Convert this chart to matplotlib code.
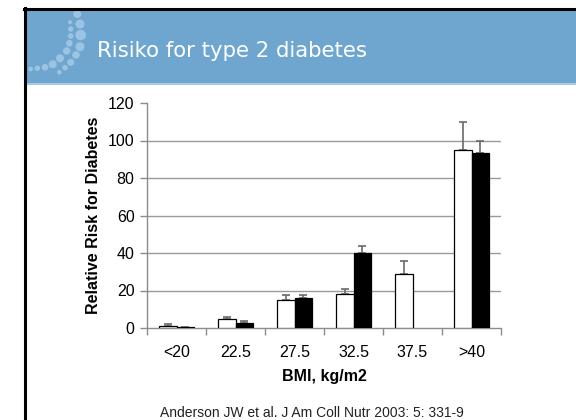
import matplotlib
matplotlib.use("Agg")
import matplotlib.pyplot as plt
import numpy as np
from matplotlib.patches import Rectangle, Circle
from matplotlib.lines import Line2D

categories = ["<20", "22.5", "27.5", "32.5", "37.5", ">40"]
white_vals = [0.9, 4.7, 14.8, 18.3, 29.0, 95.2]
white_err = [1.0, 1.2, 2.8, 2.5, 6.8, 14.6]
black_vals = [0.7, 2.8, 15.8, 40.2, np.nan, 93.6]
black_err = [np.nan, 1.2, 1.9, 3.8, np.nan, 6.2]
yticks = [0, 20, 40, 60, 80, 100, 120]

W, H = 576, 420
fig = plt.figure(figsize=(W / 100, H / 100), dpi=100)
fig.patch.set_facecolor("white")

def fx(px):
    return px / W

def fy(py):
    return 1 - py / H

# slide frame and header
fig.patches.append(Rectangle((fx(25), fy(83)), fx(W - 25), fy(10) - fy(83),
                             transform=fig.transFigure, facecolor="#6fa6cf",
                             edgecolor="none", zorder=0))
fig.lines.append(Line2D([fx(25), 1], [fy(84), fy(84)], transform=fig.transFigure,
                        color="#a9c9e2", lw=1.5))
fig.lines.append(Line2D([fx(24), 1], [fy(9), fy(9)], transform=fig.transFigure,
                        color="black", lw=2.2))
fig.lines.append(Line2D([fx(24.5), fx(24.5)], [fy(8), 0], transform=fig.transFigure,
                        color="black", lw=2.2))

# decorative dots
dots = [(77.3, 14, 4.0), (80, 24, 4.5), (80.7, 35, 5.3), (80, 46.7, 4.5),
        (76, 55, 3.8), (70.7, 62.3, 3.5), (65, 67.7, 2.8), (59.3, 72.3, 2.3),
        (70, 22.3, 2.0), (70.7, 29, 2.7), (70.7, 36, 2.8), (69.3, 43.3, 3.3),
        (66.7, 51, 3.7), (60, 58.3, 4.0), (52.7, 64.3, 4.0), (45, 67.3, 3.3),
        (37.3, 68.3, 2.7), (30.7, 69, 2.3)]
for (x, y, r) in dots:
    fig.patches.append(Circle((x, H - y), r, transform=None, facecolor="#9dc3e2",
                              edgecolor="none", zorder=1))

fig.text(fx(97), fy(51), "Risiko for type 2 diabetes", color="white",
         fontsize=15.3, family="DejaVu Sans", va="center", ha="left")

ax = fig.add_axes([147 / W, 1 - 328 / H, (501 - 147) / W, (328 - 103) / H])
x = np.arange(len(categories))
bw = 0.29
gray = "#8c8c8c"

ax.set_xlim(-0.5, len(categories) - 0.5)
ax.set_ylim(0, 120)
for yv in yticks[1:-1]:
    ax.axhline(yv, color="#9a9a9a", lw=1.0, zorder=0)

ax.bar(x - bw / 2, white_vals, bw, color="white", edgecolor="black", lw=0.9, zorder=3)
ax.bar(x + bw / 2, black_vals, bw, color="black", edgecolor="black", lw=0.9, zorder=3)
ax.errorbar(x - bw / 2, white_vals, yerr=[np.zeros(len(x)), white_err], fmt="none",
            ecolor="#6a6a6a", elinewidth=1.2, capsize=3, capthick=1.2, zorder=2)
ax.errorbar(x + bw / 2, black_vals, yerr=[np.zeros(len(x)), black_err], fmt="none",
            ecolor="#6a6a6a", elinewidth=1.2, capsize=3, capthick=1.2, zorder=2)

for s in ["top", "right"]:
    ax.spines[s].set_visible(False)
for s in ["left", "bottom"]:
    ax.spines[s].set_color(gray)
    ax.spines[s].set_linewidth(1.0)

ax.set_yticks(yticks)
ax.set_yticklabels([str(v) for v in yticks])
ax.set_xticks(np.arange(len(categories) + 1) - 0.5)
ax.set_xticklabels([])
ax.set_xticks(x, minor=True)
ax.set_xticklabels(categories, minor=True)
ax.tick_params(axis="x", which="major", length=5, color=gray, width=1.0)
ax.tick_params(axis="x", which="minor", length=0, pad=12, labelsize=11.5)
ax.tick_params(axis="y", length=5, color=gray, width=1.0, pad=4, labelsize=11.5)
for lab in ax.get_xticklabels(minor=True) + ax.get_yticklabels():
    lab.set_family("Liberation Sans")

ax.set_xlabel("BMI, kg/m2", fontsize=11.5, fontweight="bold", family="Liberation Sans",
              labelpad=7)
ax.set_ylabel("Relative Risk for Diabetes", fontsize=11.5, fontweight="bold",
              family="Liberation Sans", labelpad=5)

fig.text(fx(312), fy(413), "Anderson JW et al. J Am Coll Nutr 2003: 5: 331-9",
         fontsize=10, family="Liberation Sans", ha="center", va="center", color="#222222")

fig.savefig("out.png", dpi=100)
